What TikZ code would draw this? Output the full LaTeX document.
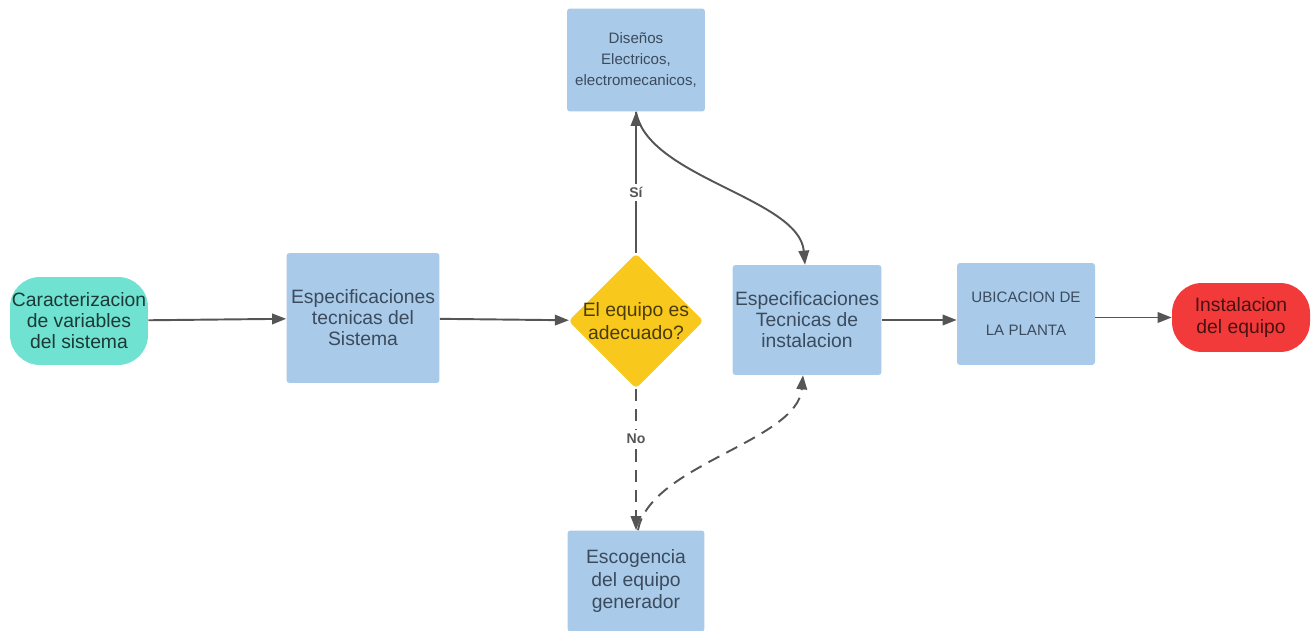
\documentclass[tikz,border=0pt]{standalone}
\usepackage{fontspec}
\setmainfont{Liberation Sans}
\usetikzlibrary{shapes.geometric,arrows.meta}
\definecolor{boxblue}{HTML}{A9CAE8}
\definecolor{boxteal}{HTML}{6FE2D2}
\definecolor{boxgold}{HTML}{F8C81C}
\definecolor{boxred}{HTML}{F23A3A}
\definecolor{inkblue}{HTML}{3B4B5E}
\definecolor{linegray}{HTML}{555555}
\newcommand{\drawstep}{\node[stepbox]}
\newcommand{\drawend}{\node[endbox]}
\newcommand{\drawask}{\node[askbox]}
\newcommand{\bigtxt}{\fontsize{11}{12.6}\selectfont}
\newcommand{\smalltxt}{\fontsize{8.6}{11.4}\selectfont}

\begin{document}
\begin{tikzpicture}[x=0.02cm, y=-0.02cm,
  stepbox/.style={rectangle, fill=boxblue, rounded corners=0.06cm, inner sep=0,
    align=center, text=inkblue},
  endbox/.style={rectangle, rounded corners=0.6cm, inner sep=0, align=center},
  askbox/.style={diamond, fill=boxgold, aspect=1, minimum size=2.7cm, inner sep=-0.1cm,
    rounded corners=0.08cm, align=center, text=boxgold!30!black},
  flow/.style={draw=linegray, line width=1.1pt, -{Triangle[length=8pt,width=6pt]}},
  nodash/.style={dash pattern=on 7pt off 4.5pt},
  tag/.style={fill=white, text=linegray, font=\fontsize{8}{9}\selectfont\bfseries, inner sep=2pt}]
\useasboundingbox (0,0) rectangle (1311,631);
%main row
\drawend (car) at (79,321) [fill=boxteal, text=boxteal!25!black, minimum width=2.76cm,
  minimum height=1.76cm] {\bigtxt Caracterizacion\\ \bigtxt de variables\\ \bigtxt del sistema};
\drawstep (esp) at (363,318) [minimum width=3.06cm, minimum height=2.6cm]
  {\bigtxt Especificaciones\\ \bigtxt tecnicas del\\ \bigtxt Sistema};
\drawask (ask) at (636,321) {\bigtxt El equipo es\\[1pt] \bigtxt adecuado?};
\drawstep (tec) at (807,320) [minimum width=2.98cm, minimum height=2.2cm]
  {\bigtxt Especificaciones\\ \bigtxt Tecnicas de\\ \bigtxt instalacion};
\drawstep (ubi) at (1026,314) [minimum width=2.76cm, minimum height=2.04cm]
  {\smalltxt UBICACION DE\\[7pt] \smalltxt LA PLANTA};
\drawend (ins) at (1241,317.5) [fill=boxred, text=boxred!30!black, minimum width=2.76cm,
  minimum height=1.38cm] {\bigtxt Instalacion\\ \bigtxt del equipo};

%branches
\drawstep (dis) at (636,60) [minimum width=2.76cm, minimum height=2.06cm]
  {\smalltxt Diseños\\ \smalltxt Electricos,\\ \smalltxt electromecanicos,};
\drawstep (esc) at (636,581) [minimum width=2.74cm, minimum height=2.02cm]
  {\bigtxt Escogencia\\[1pt] \bigtxt del equipo\\[1pt] \bigtxt generador};

\draw[flow] (car) to (esp);
\draw[flow] (esp) to (ask);
\draw[flow] (tec.east) to (tec.east -| ubi.west);
\draw[flow] (ubi.east |- ins) to (ins);

\draw[flow] (ask.north) to node [tag, pos=0.43] {Sí} (dis.south);
\draw[flow] (dis.south) to [out=-80, in=95, looseness=0.75] ([xshift=-0.04cm]tec.north);
\draw[flow, nodash] (ask.south) to node [tag, pos=0.35] {No} (esc.north);
\draw[flow, nodash] ([xshift=0.04cm]esc.north) to [out=80, in=-95, looseness=0.75]
  ([xshift=-0.08cm]tec.south);
\end{tikzpicture}
\end{document}
